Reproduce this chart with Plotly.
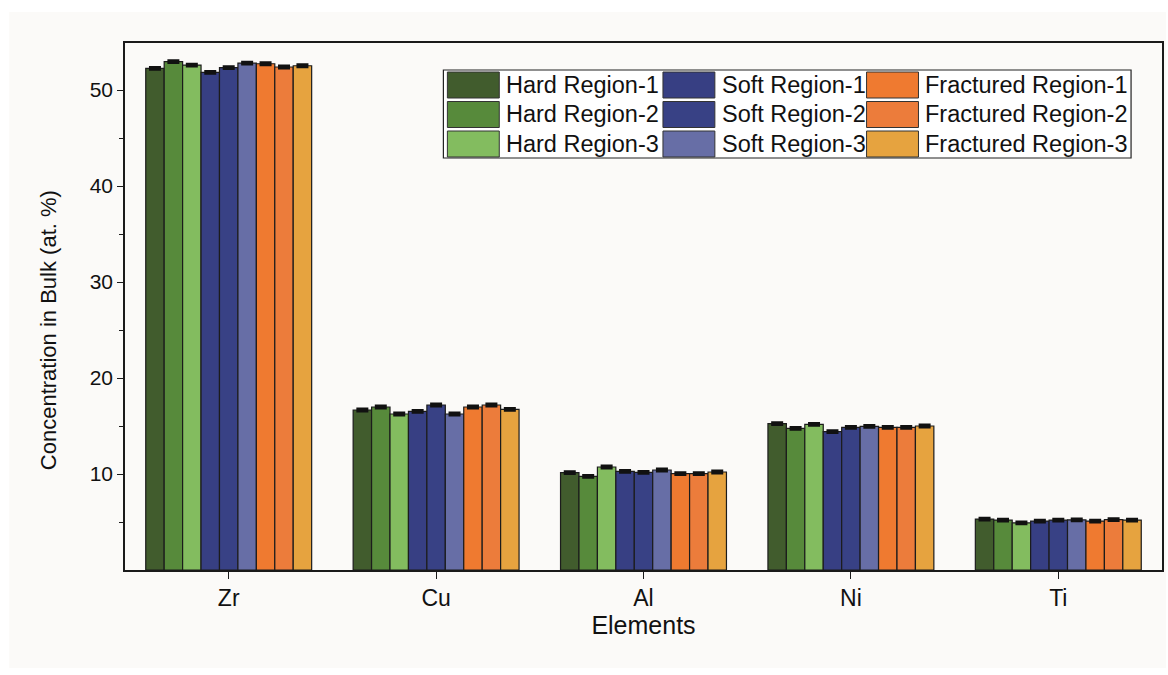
import plotly.graph_objects as go

# Bulk composition (at. %) per element, for each measured region
elements = ["Zr", "Cu", "Al", "Ni", "Ti"]

hard_1 = [52.26, 16.67, 10.14, 15.24, 5.31]
hard_2 = [52.95, 16.98, 9.76, 14.76, 5.20]
hard_3 = [52.60, 16.25, 10.73, 15.17, 4.90]
soft_1 = [51.84, 16.53, 10.28, 14.41, 5.10]
soft_2 = [52.33, 17.19, 10.17, 14.86, 5.20]
soft_3 = [52.80, 16.25, 10.42, 14.97, 5.22]
frac_1 = [52.74, 16.98, 10.03, 14.86, 5.10]
frac_2 = [52.40, 17.19, 10.03, 14.86, 5.25]
frac_3 = [52.53, 16.74, 10.21, 15.00, 5.20]

# measurement spread (at. %)
spread = [0.12, 0.12, 0.12, 0.12, 0.12]

series_names = [
    "Hard Region-1", "Hard Region-2", "Hard Region-3",
    "Soft Region-1", "Soft Region-2", "Soft Region-3",
    "Fractured Region-1", "Fractured Region-2", "Fractured Region-3",
]
series_values = [hard_1, hard_2, hard_3, soft_1, soft_2, soft_3, frac_1, frac_2, frac_3]
series_colors = [
    "#415c2d", "#578a3b", "#83bc5f",
    "#373f83", "#384185", "#676ea6",
    "#ef7a30", "#ec7c3b", "#e6a33f",
]

y_ticks = [10, 20, 30, 40, 50]

FONT = "Liberation Sans, Arial, sans-serif"

fig = go.Figure()
for name, vals, col in zip(series_names, series_values, series_colors):
    fig.add_trace(go.Bar(
        x=elements, y=vals, name=name,
        marker=dict(color=col, line=dict(color="#1c1c1c", width=1.2)),
        error_y=dict(type="data", array=spread, color="#111111", thickness=2.5, width=6),
        showlegend=False,
    ))

# figure geometry (pixels) used to place decorations in paper space
W, H = 1168, 675
L, R, T, B = 125, 1164, 43, 570


def px(xp):
    return (xp - L) / (R - L)


def py(yp):
    return (B - yp) / (B - T)


shapes = []
annotations = []

# off-white page panel behind the chart
shapes.append(dict(type="rect", xref="paper", yref="paper", layer="below",
                   x0=px(9), x1=px(1168), y0=py(668), y1=py(12),
                   fillcolor="#fbfaf8", line=dict(width=0)))

# legend: three columns (Hard / Soft / Fractured), three rows
shapes.append(dict(type="rect", xref="paper", yref="paper",
                   x0=px(444), x1=px(1133), y0=py(158), y1=py(70),
                   fillcolor="#ffffff", line=dict(color="#222222", width=1.2), layer="above"))
col_swatch_x = [448, 664, 868]
col_text_x = [505, 721, 925]
row_top = [72, 101.5, 131]
sw_w, sw_h = 52, 26
for i, (name, col) in enumerate(zip(series_names, series_colors)):
    c, r = i // 3, i % 3
    x0 = col_swatch_x[c]
    y0 = row_top[r]
    shapes.append(dict(type="rect", xref="paper", yref="paper", layer="above",
                       x0=px(x0), x1=px(x0 + sw_w), y0=py(y0 + sw_h), y1=py(y0),
                       fillcolor=col, line=dict(color="#333333", width=1)))
    annotations.append(dict(xref="paper", yref="paper", x=px(col_text_x[c]), y=py(y0 + sw_h / 2),
                            text=name, showarrow=False, xanchor="left", yanchor="middle",
                            font=dict(family=FONT, size=23.5, color="#111111")))

# y-axis title
annotations.append(dict(xref="paper", yref="paper", x=px(48), y=py(330),
                        text="Concentration in Bulk (at. %)", showarrow=False, textangle=-90,
                        xanchor="center", yanchor="middle",
                        font=dict(family=FONT, size=22, color="#111111")))

fig.update_layout(
    width=W, height=H,
    margin=dict(l=L, r=W - R, t=T, b=H - B),
    paper_bgcolor="#ffffff",
    plot_bgcolor="#fdfcfb",
    barmode="group",
    bargap=0.2,
    bargroupgap=0.0,
    font=dict(family=FONT, size=21, color="#111111"),
    shapes=shapes,
    annotations=annotations,
)

fig.update_xaxes(
    range=[-0.5, 4.5],
    showline=True, linecolor="#1a1a1a", linewidth=1.5, mirror=True,
    ticks="outside", ticklen=7, tickwidth=1.3, tickcolor="#1a1a1a",
    showgrid=False, zeroline=False,
    tickfont=dict(size=23),
    title=dict(text="Elements", font=dict(size=25), standoff=6),
)
fig.update_yaxes(
    range=[0, 54.9],
    tickvals=y_ticks,
    showline=True, linecolor="#1a1a1a", linewidth=1.5, mirror=True,
    ticks="outside", ticklen=6, tickwidth=1.3, tickcolor="#1a1a1a",
    minor=dict(tickvals=[5, 15, 25, 35, 45], ticks="outside", ticklen=4, tickwidth=1.2, tickcolor="#1a1a1a"),
    showgrid=False, zeroline=False,
    tickfont=dict(size=21),
)

fig.write_html("out.html")
